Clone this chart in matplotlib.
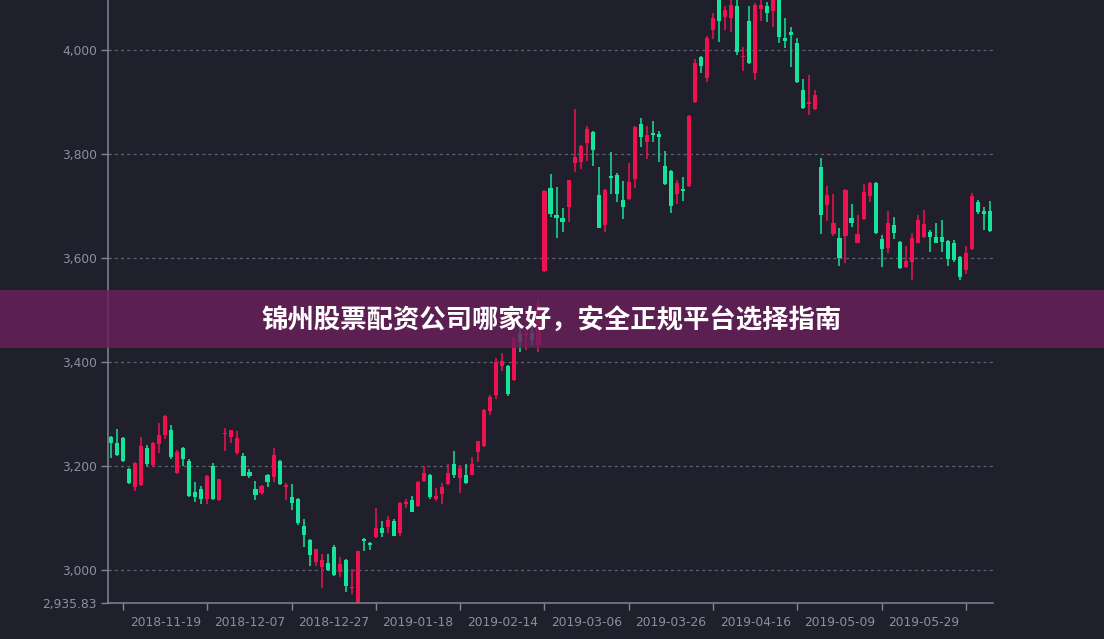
import numpy as np
import matplotlib
matplotlib.use("Agg")
import matplotlib.pyplot as plt

plt.rcParams['font.family'] = ['DejaVu Sans', 'Noto Sans CJK SC']

# daily candles (CSI 300 style)
opens = [3256, 3244, 3254, 3194, 3160, 3164, 3235, 3202, 3242, 3260,
         3269, 3187, 3235, 3210, 3150, 3156, 3137, 3200, 3135, 3262,
         3256, 3225, 3219, 3188, 3156, 3148, 3183, 3179, 3210, 3160,
         3140, 3137, 3085, 3058, 3015, 3006, 3014, 3044, 2996, 3019,
         2965, 2939, 3060, 3052, 3063, 3081, 3083, 3094, 3071, 3127,
         3135, 3123, 3171, 3183, 3137, 3146, 3165, 3204, 3177, 3183,
         3183, 3227, 3238, 3306, 3337, 3392, 3392, 3365, 3456, 3452,
         3456, 3433, 3575, 3735, 3683, 3677, 3698, 3783, 3785, 3821,
         3842, 3721, 3663, 3758, 3760, 3712, 3713, 3752, 3858, 3823,
         3840, 3838, 3777, 3767, 3723, 3733, 3738, 3900, 3987, 3946,
         4038, 4105, 4063, 4062, 4085, 3987, 4056, 3956, 4079, 4085,
         4075, 4100, 4023, 4035, 4013, 3923, 3896, 3887, 3775, 3702,
         3646, 3638, 3642, 3677, 3629, 3675, 3719, 3744, 3637, 3619,
         3663, 3631, 3583, 3592, 3629, 3640, 3650, 3640, 3640, 3633,
         3629, 3602, 3577, 3617, 3708, 3690, 3690]
highs = [3258, 3271, 3256, 3196, 3208, 3256, 3240, 3246, 3283, 3298,
         3279, 3231, 3237, 3214, 3169, 3162, 3182, 3206, 3176, 3273,
         3270, 3267, 3225, 3194, 3171, 3163, 3185, 3235, 3212, 3167,
         3165, 3138, 3098, 3059, 3041, 3031, 3031, 3048, 3025, 3021,
         3002, 3037, 3062, 3054, 3119, 3094, 3104, 3098, 3130, 3137,
         3142, 3171, 3200, 3185, 3158, 3167, 3204, 3229, 3202, 3204,
         3217, 3249, 3309, 3337, 3408, 3417, 3394, 3448, 3465, 3462,
         3471, 3521, 3731, 3762, 3737, 3696, 3751, 3887, 3817, 3854,
         3844, 3775, 3732, 3804, 3764, 3748, 3783, 3853, 3869, 3854,
         3863, 3844, 3806, 3770, 3750, 3756, 3875, 3983, 3988, 4027,
         4071, 4126, 4085, 4100, 4098, 4006, 4085, 4090, 4100, 4092,
         4110, 4110, 4062, 4044, 4023, 3944, 3952, 3923, 3792, 3738,
         3723, 3658, 3732, 3704, 3683, 3742, 3746, 3746, 3644, 3690,
         3679, 3633, 3623, 3648, 3683, 3692, 3654, 3667, 3673, 3635,
         3635, 3604, 3623, 3725, 3712, 3698, 3710]
lows = [3215, 3219, 3208, 3166, 3152, 3161, 3200, 3199, 3225, 3252,
        3213, 3185, 3200, 3140, 3131, 3127, 3127, 3135, 3132, 3229,
        3244, 3221, 3180, 3177, 3135, 3144, 3160, 3169, 3163, 3135,
        3115, 3087, 3044, 3008, 3008, 2965, 2998, 2989, 2987, 2958,
        2954, 2935.83, 3037, 3038, 3062, 3063, 3071, 3065, 3065, 3119,
        3111, 3121, 3170, 3137, 3133, 3127, 3164, 3177, 3148, 3165,
        3182, 3208, 3237, 3298, 3329, 3383, 3335, 3364, 3419, 3423,
        3433, 3419, 3573, 3679, 3638, 3650, 3669, 3765, 3771, 3787,
        3777, 3657, 3650, 3723, 3708, 3675, 3712, 3735, 3813, 3790,
        3823, 3785, 3741, 3687, 3704, 3710, 3737, 3899, 3956, 3938,
        4021, 4015, 4038, 4035, 3990, 3960, 3974, 3942, 4056, 4054,
        4044, 4013, 4004, 3967, 3937, 3887, 3875, 3884, 3646, 3671,
        3642, 3585, 3590, 3660, 3628, 3674, 3708, 3647, 3583, 3610,
        3637, 3579, 3580, 3558, 3628, 3639, 3612, 3628, 3612, 3585,
        3592, 3558, 3569, 3616, 3684, 3654, 3651]
closes = [3244, 3221, 3210, 3167, 3206, 3239, 3204, 3244, 3260, 3296,
          3217, 3227, 3214, 3142, 3140, 3137, 3181, 3137, 3175, 3264,
          3269, 3254, 3181, 3181, 3144, 3162, 3169, 3221, 3165, 3164,
          3129, 3090, 3067, 3029, 3040, 3019, 3000, 2990, 3012, 2969,
          2968, 3036, 3056, 3048, 3081, 3071, 3096, 3065, 3129, 3131,
          3112, 3169, 3187, 3140, 3142, 3160, 3187, 3183, 3196, 3167,
          3204, 3248, 3308, 3333, 3400, 3402, 3338, 3446, 3438, 3455,
          3442, 3510, 3729, 3685, 3677, 3669, 3750, 3794, 3815, 3848,
          3808, 3658, 3731, 3754, 3723, 3698, 3746, 3852, 3833, 3837,
          3837, 3833, 3742, 3700, 3744, 3729, 3873, 3975, 3969, 4023,
          4062, 4056, 4077, 4087, 3996, 3989, 3975, 4087, 4087, 4071,
          4100, 4025, 4017, 4029, 3938, 3888, 3900, 3913, 3683, 3721,
          3667, 3600, 3731, 3667, 3646, 3727, 3744, 3648, 3617, 3667,
          3648, 3581, 3594, 3638, 3673, 3665, 3640, 3629, 3631, 3598,
          3596, 3563, 3610, 3719, 3688, 3685, 3652]

date_labels = ['2018-11-19', '2018-12-07', '2018-12-27', '2019-01-18', '2019-02-14',
               '2019-03-06', '2019-03-26', '2019-04-16', '2019-05-09', '2019-05-29']
first_label = 9
label_step = 14

y_min = min(lows)
y_ticks = [3000, 3200, 3400, 3600, 3800, 4000]

bg = '#20202c'
up_color = '#ee1250'
down_color = '#16e39c'
axis_color = '#7f8698'
text_color = '#8b90a0'

fig = plt.figure(figsize=(11.04, 6.39), dpi=100, facecolor=bg)
ax = fig.add_axes([108 / 1104, 35.6 / 639, 885 / 1104, 603.4 / 639])
ax.set_facecolor(bg)

o = np.array(opens, dtype=float)
h = np.array(highs, dtype=float)
l = np.array(lows, dtype=float)
c = np.array(closes, dtype=float)
x = np.arange(len(o))
colors = np.where(c >= o, up_color, down_color)

# grid first so candles sit on top
for yv in y_ticks:
    ax.axhline(yv, color='#5d6272', lw=0.9, ls=(0, (2.5, 2.5)), zorder=1)

ax.vlines(x, l, h, colors=colors, lw=1.1, zorder=2)
body_bottom = np.minimum(o, c)
body_h = np.maximum(np.abs(c - o), 1.6)
ax.bar(x, body_h, bottom=body_bottom, width=0.68, color=colors, lw=0, zorder=3)

ax.set_xlim(-0.5, len(o) - 0.5)
ax.set_ylim(y_min, 4096.2)

# y axis
ax.set_yticks([y_min] + y_ticks)
ax.set_yticklabels(['{:,.2f}'.format(y_min)] + ['{:,}'.format(v) for v in y_ticks])
ax.tick_params(axis='y', colors=axis_color, labelcolor=text_color, labelsize=8.8,
               length=5, width=1, pad=3)

# x axis: ticks sit half a label step left of the labels
label_pos = [first_label + k * label_step for k in range(len(date_labels))]
tick_pos = [p - label_step // 2 for p in label_pos] + [label_pos[-1] + label_step // 2]
ax.set_xticks(tick_pos)
ax.set_xticklabels([])
ax.set_xticks(label_pos, minor=True)
ax.set_xticklabels(date_labels, minor=True)
ax.tick_params(axis='x', which='major', colors=axis_color, length=5, width=1)
ax.tick_params(axis='x', which='minor', length=0, pad=9, labelcolor=text_color, labelsize=8.8)

for side in ['top', 'right']:
    ax.spines[side].set_visible(False)
for side in ['left', 'bottom']:
    ax.spines[side].set_color(axis_color)
    ax.spines[side].set_linewidth(1.1)

# title banner over the chart
fig.patches.append(plt.Rectangle((0, 1 - 348 / 639), 1, 58 / 639, transform=fig.transFigure,
                                 facecolor='#6a1f5b', alpha=0.82, zorder=10))
fig.text(0.5, 1 - 321 / 639, '锦州股票配资公司哪家好，安全正规平台选择指南',
         ha='center', va='center', color='white', fontsize=19, fontweight='bold',
         family=['Noto Sans CJK SC', 'DejaVu Sans'], zorder=11)

fig.savefig('out.png', dpi=100, facecolor=bg)
